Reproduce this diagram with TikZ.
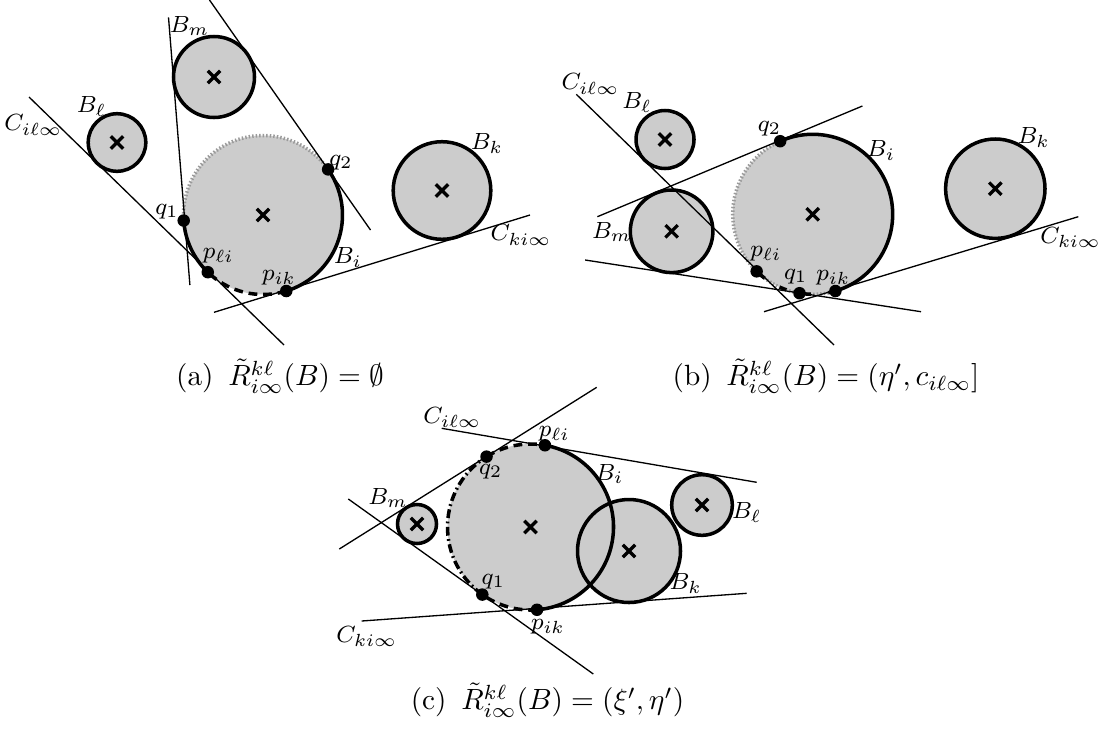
\documentclass[tikz,border=0pt]{standalone}
\usepackage{xcolor}
\usepackage{tikz}
\usetikzlibrary{calc, shapes.misc}
\definecolor{ballgray}{HTML}{CCCCCC}
\definecolor{dotgray}{HTML}{9A9A9A}

\begin{document}
\begin{tikzpicture}[x=0.012cm, y=-0.012cm,
  ball/.style={draw, line width=1.2pt, fill=ballgray},
  rim/.style={line width=1.2pt},
  rimdash/.style={line width=1.2pt, dash pattern=on 3pt off 2pt},
  rimsparse/.style={line width=1.2pt, dash pattern=on 2.5pt off 6pt},
  rimdashdot/.style={line width=1.2pt, dash pattern=on 3pt off 1.2pt on 0.6pt off 1.2pt},
  rimdot/.style={line width=1.2pt, dotgray, dash pattern=on 0.5pt off 0.7pt},
  tang/.style={line width=0.45pt},
  ctr/.style={cross out, draw, line width=1.1pt, minimum size=0.11cm, inner sep=0pt},
  touch/.style={circle, fill=black, inner sep=0pt, minimum size=0.15cm},
  lbl/.style={font=\footnotesize, inner sep=1pt},
  capt/.style={font=\normalsize, inner sep=1pt}
]
  \useasboundingbox (0,0) rectangle (1099,729);

  \coordinate (Bla) at (117,142.5);
  \coordinate (Bma) at (214,77);
  \coordinate (Bia) at (263,215);
  \coordinate (Bka) at (442,190.5);
  \coordinate (q1a) at ($(Bia)+(176:79.5)$);
  \coordinate (q2a) at ($(Bia)+(-35:79.5)$);
  \coordinate (plia) at ($(Bia)+(134:79.5)$);
  \coordinate (pika) at ($(Bia)+(73:79.5)$);

  \draw[ball] (Bla) circle[radius=28.8];
  \draw[ball] (Bma) circle[radius=40.5];
  \draw[ball] (Bka) circle[radius=48.8];
  \fill[ballgray] (Bia) circle[radius=79.5];
  \draw[rimdot] (q1a) arc[start angle=176, end angle=325, radius=79.5];
  \draw[rim] (q2a) arc[start angle=-35, end angle=73, radius=79.5];
  \draw[rimdash] (pika) arc[start angle=73, end angle=134, radius=79.5];
  \draw[rim] (plia) arc[start angle=134, end angle=176, radius=79.5];

  \coordinate (cil1a) at (29,97);
  \coordinate (cil2a) at (284,345);
  \coordinate (lq1a) at (168.5,17.3);
  \coordinate (lq1b) at (189.9,285);
  \coordinate (lq2a) at (209.5,0);
  \coordinate (lq2b) at (370.5,230);
  \coordinate (cki1a) at (214,312.3);
  \coordinate (cki2a) at (530,215);
  \draw[tang] (cil1a) -- (cil2a);
  \draw[tang] (lq1a) -- (lq1b);
  \draw[tang] (lq2a) -- (lq2b);
  \draw[tang] (cki1a) -- (cki2a);

  \node[ctr] (xBla) at (Bla) {};
  \node[ctr] (xBma) at (Bma) {};
  \node[ctr] (xBia) at (Bia) {};
  \node[ctr] (xBka) at (Bka) {};
  \node[touch] (dq1a) at (q1a) {};
  \node[touch] (dq2a) at (q2a) {};
  \node[touch] (dplia) at (plia) {};
  \node[touch] (dpika) at (pika) {};

  \node[lbl] (tBma) at (189.5,26) {$B_m$};
  \node[lbl] (tBla) at (91.6,106.7) {$B_\ell$};
  \node[lbl] (tcila) at (33.3,125) {$C_{i\ell\infty}$};
  \node[lbl] (tq1a) at (167,211.7) {$q_1$};
  \node[lbl] (tq2a) at (341,162.3) {$q_2$};
  \node[lbl] (tBka) at (487,143.3) {$B_k$};
  \node[lbl] (tckia) at (521,235) {$C_{ki\infty}$};
  \node[lbl] (tBia) at (347.8,257.3) {$B_i$};
  \node[lbl] (tplia) at (218.3,255.7) {$p_{\ell i}$};
  \node[lbl] (tpika) at (279,277.3) {$p_{ik}$};
  \node[capt] (capa) at (280,376) {(a)\enspace$\tilde{R}^{k\ell}_{i\infty}(B)=\emptyset$};

  \coordinate (Blb) at (665,139.5);
  \coordinate (Bmb) at (671.6,231.3);
  \coordinate (Bib) at (812.7,214.3);
  \coordinate (Bkb) at (995.3,188.7);
  \coordinate (q1b) at ($(Bib)+(99.5:80)$);
  \coordinate (q2b) at ($(Bib)+(246:80)$);
  \coordinate (plib) at ($(Bib)+(134.5:80)$);
  \coordinate (pikb) at ($(Bib)+(73.5:80)$);

  \draw[ball] (Blb) circle[radius=29];
  \draw[ball] (Bmb) circle[radius=41.3];
  \draw[ball] (Bkb) circle[radius=49.7];
  \fill[ballgray] (Bib) circle[radius=80];
  \draw[rimdot] (pikb) arc[start angle=73.5, end angle=246, radius=80];
  \draw[rim] (q2b) arc[start angle=246, end angle=433.5, radius=80];
  \draw[rimsparse] (pikb) arc[start angle=73.5, end angle=134.5, radius=80];

  \coordinate (cil1b) at (576.3,94.3);
  \coordinate (cil2b) at (834,345);
  \coordinate (up1b) at (597.4,216.7);
  \coordinate (up2b) at (862.4,106);
  \coordinate (lo1b) at (585.1,260);
  \coordinate (lo2b) at (921,311.7);
  \coordinate (cki1b) at (764,311.7);
  \coordinate (cki2b) at (1078.3,216.7);
  \draw[tang] (cil1b) -- (cil2b);
  \draw[tang] (up1b) -- (up2b);
  \draw[tang] (lo1b) -- (lo2b);
  \draw[tang] (cki1b) -- (cki2b);

  \node[ctr] (xBlb) at (Blb) {};
  \node[ctr] (xBmb) at (Bmb) {};
  \node[ctr] (xBib) at (Bib) {};
  \node[ctr] (xBkb) at (Bkb) {};
  \node[touch] (dq1b) at (q1b) {};
  \node[touch] (dq2b) at (q2b) {};
  \node[touch] (dplib) at (plib) {};
  \node[touch] (dpikb) at (pikb) {};

  \node[lbl] (tcilb) at (590.4,84) {$C_{i\ell\infty}$};
  \node[lbl] (tBlb) at (637,102.3) {$B_\ell$};
  \node[lbl] (tq2b) at (769.4,128.3) {$q_2$};
  \node[lbl] (tBib) at (881,150.7) {$B_i$};
  \node[lbl] (tBkb) at (1033.7,137.3) {$B_k$};
  \node[lbl] (tBmb) at (611.8,231.7) {$B_m$};
  \node[lbl] (tckib) at (1070.5,237.3) {$C_{ki\infty}$};
  \node[lbl] (tplib) at (765.9,253.3) {$p_{\ell i}$};
  \node[lbl] (tq1b) at (795.7,276.3) {$q_1$};
  \node[lbl] (tpikb) at (833.3,277.3) {$p_{ik}$};
  \node[capt] (capb) at (826,376) {(b)\enspace$\tilde{R}^{k\ell}_{i\infty}(B)=(\eta',c_{i\ell\infty}]$};

  \coordinate (Blc) at (702,505);
  \coordinate (Bmc) at (417,524);
  \coordinate (Bic) at (530.5,527);
  \coordinate (Bkc) at (629,551);
  \coordinate (q1c) at ($(Bic)+(125.5:83)$);
  \coordinate (q2c) at ($(Bic)+(238:83)$);
  \coordinate (plic) at ($(Bic)+(280:83)$);
  \coordinate (pikc) at ($(Bic)+(85.5:83)$);

  \draw[ball] (Blc) circle[radius=30.3];
  \draw[ball] (Bmc) circle[radius=19.5];
  \fill[ballgray] (Bic) circle[radius=83];
  \fill[ballgray] (Bkc) circle[radius=51.5];
  \draw[rim] (Bkc) circle[radius=51.5];
  \draw[rim] (plic) arc[start angle=-80, end angle=85.5, radius=83];
  \draw[rimdash] (pikc) arc[start angle=85.5, end angle=125.5, radius=83];
  \draw[rimdashdot] (q1c) arc[start angle=125.5, end angle=238, radius=83];
  \draw[rimdash] (q2c) arc[start angle=238, end angle=280, radius=83];

  \coordinate (cil1c) at (441.7,428.3);
  \coordinate (cil2c) at (756.7,482.3);
  \coordinate (up1c) at (339.3,549);
  \coordinate (up2c) at (596.7,387.3);
  \coordinate (lo1c) at (348.3,499);
  \coordinate (lo2c) at (593.3,674);
  \coordinate (cki1c) at (361.7,621);
  \coordinate (cki2c) at (746.7,593.3);
  \draw[tang] (cil1c) -- (cil2c);
  \draw[tang] (up1c) -- (up2c);
  \draw[tang] (lo1c) -- (lo2c);
  \draw[tang] (cki1c) -- (cki2c);

  \node[ctr] (xBlc) at (Blc) {};
  \node[ctr] (xBmc) at (Bmc) {};
  \node[ctr] (xBic) at (Bic) {};
  \node[ctr] (xBkc) at (Bkc) {};
  \node[touch] (dq1c) at (q1c) {};
  \node[touch] (dq2c) at (q2c) {};
  \node[touch] (dplic) at (plic) {};
  \node[touch] (dpikc) at (pikc) {};

  \node[lbl] (tcilc) at (452.3,417.3) {$C_{i\ell\infty}$};
  \node[lbl] (tplic) at (554.3,433.3) {$p_{\ell i}$};
  \node[lbl] (tq2c) at (490.7,471.7) {$q_2$};
  \node[lbl] (tBic) at (609.3,474) {$B_i$};
  \node[lbl] (tBmc) at (388,498.3) {$B_m$};
  \node[lbl] (tBlc) at (746.7,512.3) {$B_\ell$};
  \node[lbl] (tBkc) at (685.7,583.3) {$B_k$};
  \node[lbl] (tq1c) at (493.3,581.7) {$q_1$};
  \node[lbl] (tckic) at (366.7,636.7) {$C_{ki\infty}$};
  \node[lbl] (tpikc) at (548,626.7) {$p_{ik}$};
  \node[capt] (capc) at (547.5,700) {(c)\enspace$\tilde{R}^{k\ell}_{i\infty}(B)=(\xi',\eta')$};
\end{tikzpicture}
\end{document}
